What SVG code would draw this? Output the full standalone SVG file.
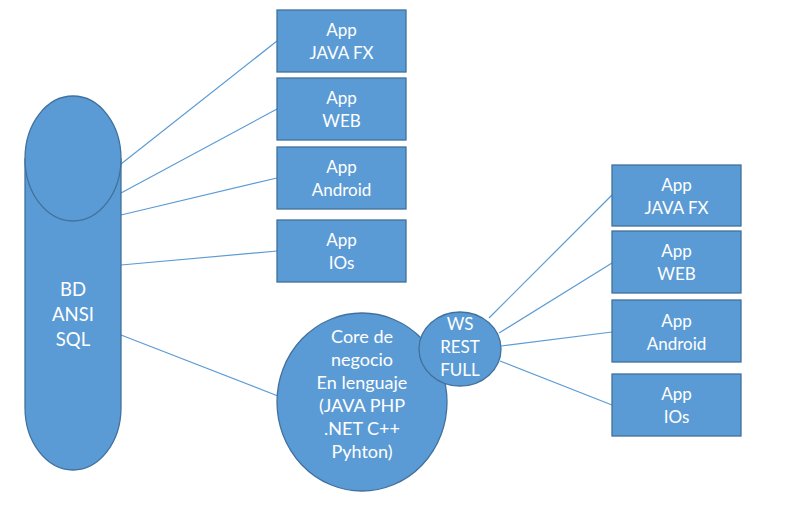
<svg xmlns="http://www.w3.org/2000/svg" width="787" height="530" viewBox="0 0 787 530">
<style>
.s{fill:#5B9BD5;stroke:#41719C;stroke-width:1.3}
.t{fill:#fff;font-family:Lato,"Liberation Sans",sans-serif;font-size:17px;text-anchor:middle}
.b{font-size:18.5px}
.k{font-size:18px}
.c{stroke:#5B9BD5;stroke-width:1.2;fill:none}
</style>
<rect width="787" height="530" fill="#fff"/>
<g id="connectors">
<line class="c" x1="121" y1="164" x2="277" y2="41"/>
<line class="c" x1="121" y1="193" x2="277" y2="109"/>
<line class="c" x1="121" y1="215" x2="277" y2="178"/>
<line class="c" x1="121" y1="265" x2="277" y2="251"/>
<line class="c" x1="121" y1="335" x2="278" y2="396"/>
<line class="c" x1="489" y1="318" x2="612" y2="195"/>
<line class="c" x1="499" y1="333" x2="612" y2="263"/>
<line class="c" x1="501" y1="346" x2="612" y2="332"/>
<line class="c" x1="500" y1="361" x2="612" y2="405"/>
</g>
<g id="bd">
<path class="s" d="M25,158.5 L25,407.5 A48,62.5 0 0 0 121,407.5 L121,158.5"/>
<ellipse class="s" cx="73" cy="158.5" rx="48" ry="62.5"/>
<text class="t b" x="73" y="296">BD</text>
<text class="t b" x="73" y="321">ANSI</text>
<text class="t b" x="73" y="346">SQL</text>
</g>
<g id="l1"><rect class="s" x="277" y="10" width="129" height="62"/><text class="t" x="341.5" y="36">App</text><text class="t" x="341.5" y="59">JAVA FX</text></g>
<g id="l2"><rect class="s" x="277" y="78" width="129" height="62"/><text class="t" x="341.5" y="104">App</text><text class="t" x="341.5" y="127">WEB</text></g>
<g id="l3"><rect class="s" x="277" y="147" width="129" height="62"/><text class="t" x="341.5" y="173">App</text><text class="t" x="341.5" y="196">Android</text></g>
<g id="l4"><rect class="s" x="277" y="220" width="129" height="62"/><text class="t" x="341.5" y="246">App</text><text class="t" x="341.5" y="269">IOs</text></g>
<g id="core">
<ellipse class="s" cx="362" cy="402" rx="85" ry="89"/>
<text class="t k" x="362" y="343">Core de</text>
<text class="t k" x="362" y="366">negocio</text>
<text class="t k" x="362" y="389">En lenguaje</text>
<text class="t k" x="362" y="412">(JAVA PHP</text>
<text class="t k" x="362" y="435">.NET C++</text>
<text class="t k" x="362" y="458">Pyhton)</text>
</g>
<g id="ws">
<ellipse class="s" cx="460" cy="349" rx="41" ry="37"/>
<text class="t" x="460" y="330">WS</text>
<text class="t" x="460" y="353">REST</text>
<text class="t" x="460" y="376">FULL</text>
</g>
<g id="r1"><rect class="s" x="612" y="165" width="129" height="61"/><text class="t" x="676.5" y="191">App</text><text class="t" x="676.5" y="214">JAVA FX</text></g>
<g id="r2"><rect class="s" x="612" y="231" width="129" height="62"/><text class="t" x="676.5" y="257">App</text><text class="t" x="676.5" y="280">WEB</text></g>
<g id="r3"><rect class="s" x="612" y="300" width="129" height="62"/><text class="t" x="676.5" y="327">App</text><text class="t" x="676.5" y="350">Android</text></g>
<g id="r4"><rect class="s" x="612" y="374" width="129" height="62"/><text class="t" x="676.5" y="400">App</text><text class="t" x="676.5" y="423">IOs</text></g>
</svg>
